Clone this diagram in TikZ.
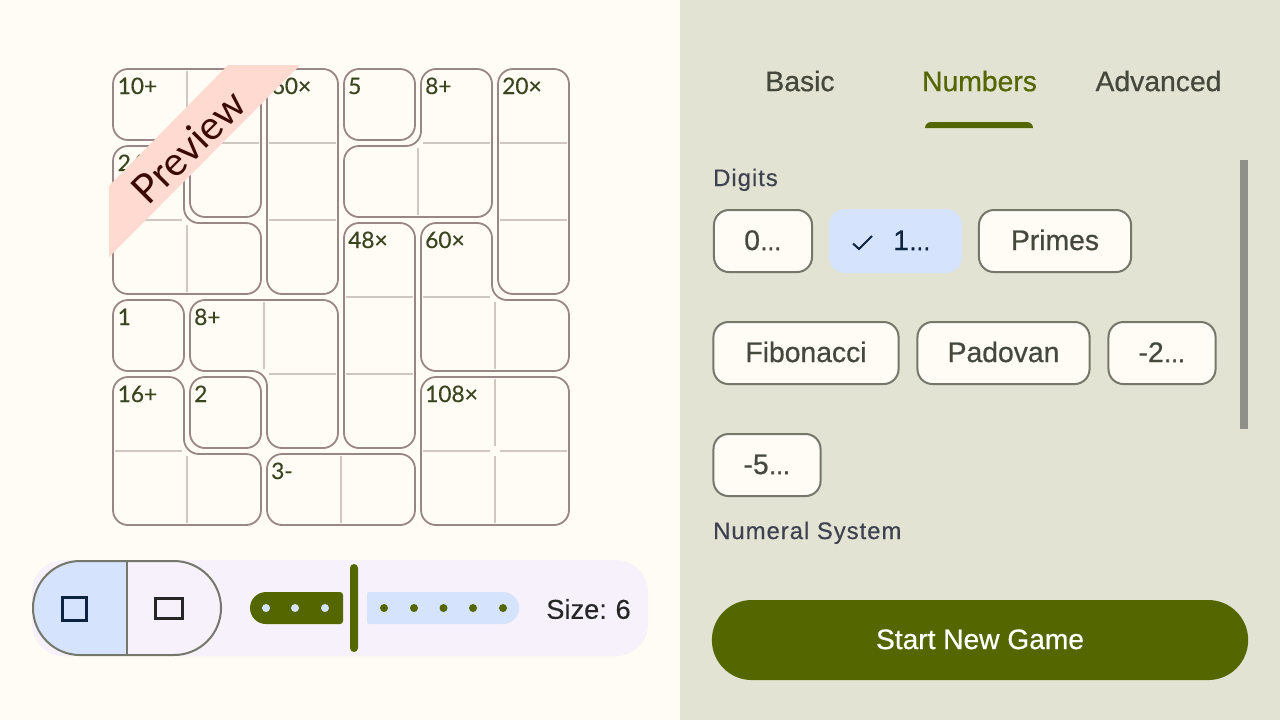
\documentclass[tikz,border=0pt]{standalone}
\usepackage{fontspec}
\setmainfont{Liberation Sans}[FakeBold=0.6]
\newfontfamily\cagefont{Lato}[FakeBold=0.4]
\newfontfamily\ribbonfont{Lato}
\newfontfamily\thinfont{Liberation Sans}[FakeBold=0.2]
\newfontfamily\headfont{Liberation Sans}[LetterSpace=4,FakeBold=0.4]
\newfontfamily\dotsfont{Liberation Sans}[FakeBold=2.5]
\newcommand{\shortdots}{{\dotsfont\fontsize{6.2}{9}\selectfont …}}

\definecolor{paper}{HTML}{FFFCF5}
\definecolor{panel}{HTML}{E2E3D3}
\definecolor{olive}{HTML}{536600}
\definecolor{skyblue}{HTML}{D5E3FD}
\definecolor{barback}{HTML}{F6F1FA}
\definecolor{cageline}{HTML}{9A8686}
\definecolor{sepline}{HTML}{CFC7C0}
\definecolor{chipline}{HTML}{75776B}
\definecolor{cagetext}{HTML}{3A4520}
\definecolor{darktext}{HTML}{45483C}
\definecolor{navy}{HTML}{0E2340}
\definecolor{ribbonfill}{HTML}{FFDAD0}
\definecolor{ribbontext}{HTML}{3B0A05}
\definecolor{scrollgray}{HTML}{8F908A}

\tikzset{
  cage/.style={draw=cageline,line width=0.018cm,rounded corners=0.15cm},
  sep/.style={draw=sepline,line width=0.015cm},
  cagelabel/.style={anchor=base west,inner sep=0pt,text=cagetext,font=\cagefont\fontsize{6.45}{8}\selectfont},
  tablabel/.style={inner sep=0pt,text=darktext,font=\fontsize{8.05}{9}\selectfont},
  headlabel/.style={anchor=base west,inner sep=0pt,text=darktext!90!blue,font=\headfont\fontsize{6.8}{8}\selectfont},
  chipbox/.style={draw=chipline,line width=0.02cm,fill=paper,rounded corners=0.15cm,minimum height=0.62cm,text height=0.2cm,text depth=0.02cm,inner sep=0pt,text=darktext,font=\fontsize{8.05}{9}\selectfont},
  dot/.style={circle,inner sep=0pt,minimum size=0.08cm},
}

\begin{document}
\begin{tikzpicture}[x=0.01cm,y=-0.01cm]
  \useasboundingbox (0,0) rectangle (1280,720);
  \fill[paper] (0,0) rectangle (680,720);
  \fill[panel] (680,0) rectangle (1280,720);

  % cages
  \draw[cage] (113,69) -- (261,69) -- (261,217) -- (190,217) -- (190,140) -- (113,140) -- cycle;
  \draw[cage] (113,146) -- (184,146) -- (184,223) -- (261,223) -- (261,294) -- (113,294) -- cycle;
  \draw[cage] (267,69) rectangle (338,294);
  \draw[cage] (344,69) rectangle (415,140);
  \draw[cage] (421,69) -- (492,69) -- (492,217) -- (344,217) -- (344,146) -- (421,146) -- cycle;
  \draw[cage] (498,69) rectangle (569,294);
  \draw[cage] (344,223) rectangle (415,448);
  \draw[cage] (421,223) -- (492,223) -- (492,300) -- (569,300) -- (569,371) -- (421,371) -- cycle;
  \draw[cage] (113,300) rectangle (184,371);
  \draw[cage] (190,300) -- (338,300) -- (338,448) -- (267,448) -- (267,371) -- (190,371) -- cycle;
  \draw[cage] (113,377) -- (184,377) -- (184,454) -- (261,454) -- (261,525) -- (113,525) -- cycle;
  \draw[cage] (190,377) rectangle (261,448);
  \draw[cage] (267,454) rectangle (415,525);
  \draw[cage] (421,377) rectangle (569,525);

  % cell lines inside the cages
  \draw[sep] (187,71) -- (187,138); \draw[sep] (192,143) -- (259,143);
  \draw[sep] (115,220) -- (182,220); \draw[sep] (187,225) -- (187,292);
  \draw[sep] (269,143) -- (336,143); \draw[sep] (269,220) -- (336,220);
  \draw[sep] (423,143) -- (490,143); \draw[sep] (418,148) -- (418,215);
  \draw[sep] (500,143) -- (567,143); \draw[sep] (500,220) -- (567,220);
  \draw[sep] (346,297) -- (413,297); \draw[sep] (346,374) -- (413,374);
  \draw[sep] (423,297) -- (490,297); \draw[sep] (495,302) -- (495,369);
  \draw[sep] (264,302) -- (264,369); \draw[sep] (269,374) -- (336,374);
  \draw[sep] (115,451) -- (182,451); \draw[sep] (187,456) -- (187,523);
  \draw[sep] (341,456) -- (341,523);
  \draw[sep] (495,379) -- (495,446); \draw[sep] (495,456) -- (495,523);
  \draw[sep] (423,451) -- (490,451); \draw[sep] (500,451) -- (567,451);

  \node[cagelabel] (tenplus) at (117,94) {10+};
  \node[cagelabel] (twentyfour) at (117,171) {24×};
  \node[cagelabel] (sixtya) at (271,94) {60×};
  \node[cagelabel] (five) at (347.5,94) {5};
  \node[cagelabel] (eighta) at (424.5,94) {8+};
  \node[cagelabel] (twenty) at (501.5,94) {20×};
  \node[cagelabel] (fortyeight) at (347.5,248) {48×};
  \node[cagelabel] (sixtyb) at (424.5,248) {60×};
  \node[cagelabel] (one) at (117,325) {1};
  \node[cagelabel] (eightb) at (193.5,325) {8+};
  \node[cagelabel] (sixteen) at (117,402) {16+};
  \node[cagelabel] (two) at (193.5,402) {2};
  \node[cagelabel] (hundred) at (424.5,402) {108×};
  \node[cagelabel] (three) at (270.5,479) {3-};

  % ribbon
  \fill[ribbonfill] (228,65) -- (300,65) -- (109,257) -- (109,186) -- cycle;
  \node[rotate=45,inner sep=0pt,text=ribbontext,font=\ribbonfont\fontsize{11.4}{13}\selectfont] (preview) at (188.5,146.5) {Preview};

  % bottom bar
  \fill[barback,rounded corners=0.32cm] (32,560) rectangle (648,656);
  \fill[skyblue] (127,561) [rounded corners=0.47cm] -- (33,561) -- (33,655) [sharp corners] -- (127,655) -- cycle;
  \draw[chipline,line width=0.02cm,rounded corners=0.47cm] (33,561) rectangle (221,655);
  \draw[chipline,line width=0.02cm] (127,561) -- (127,655);
  \draw[navy,line width=0.03cm] (62,597) rectangle (86,620);
  \draw[black!85,line width=0.03cm] (155,598) rectangle (182,618);

  % slider
  \fill[olive] (343,592) [rounded corners=0.16cm] -- (250,592) -- (250,624) [rounded corners=0.03cm] -- (343,624) -- cycle;
  \fill[skyblue] (367,592) [rounded corners=0.16cm] -- (519,592) -- (519,624) [rounded corners=0.02cm] -- (367,624) -- cycle;
  \fill[olive,rounded corners=0.04cm] (350,564) rectangle (358,652);
  \node[dot,fill=skyblue] (stopa) at (266,608) {};
  \node[dot,fill=skyblue] (stopb) at (295,608) {};
  \node[dot,fill=skyblue] (stopc) at (325,608) {};
  \node[dot,fill=olive] (stopd) at (384,608) {};
  \node[dot,fill=olive] (stope) at (414,608) {};
  \node[dot,fill=olive] (stopf) at (443.5,608) {};
  \node[dot,fill=olive] (stopg) at (473,608) {};
  \node[dot,fill=olive] (stoph) at (503,608) {};
  \node[inner sep=0pt,text=black!85,font=\thinfont\fontsize{7.75}{9}\selectfont] (size) at (588.5,609) {Size:\kern-0.4pt{} 6};

  % tabs
  \node[tablabel] (basic) at (800,81) {Basic};
  \node[tablabel,text=olive] (numbers) at (979.5,81) {Numbers};
  \node[tablabel] (advanced) at (1158.5,81) {Advanced};
  \fill[olive] (925,128) [rounded corners=0.06cm] -- (925,122) -- (1033,122) [sharp corners] -- (1033,128) -- cycle;

  % chips
  \node[headlabel] (digits) at (712.5,186) {Digits};
  \node[chipbox,minimum width=0.98cm] (chipzero) at (763,241) {0\shortdots};
  \node[fill=skyblue,rounded corners=0.16cm,minimum width=1.33cm,minimum height=0.64cm,inner sep=0pt] (chipone) at (895.5,241) {};
  \node[inner sep=0pt,text height=0.2cm,text depth=0.02cm,text=navy,font=\fontsize{8.05}{9}\selectfont] (onetext) at (912,241) {1\shortdots};
  \draw[navy,line width=0.02cm] (853,243.5) -- (859,249) -- (872,236);
  \node[chipbox,minimum width=1.52cm] (chipprimes) at (1055,241) {Primes};
  \node[chipbox,minimum width=1.85cm] (chipfib) at (806,353) {Fibonacci};
  \node[chipbox,minimum width=1.72cm] (chippad) at (1003.5,353) {Padovan};
  \node[chipbox,minimum width=1.07cm] (chiptwo) at (1162,353) {-2\shortdots};
  \node[chipbox,minimum width=1.07cm] (chipfive) at (767,465) {-5\shortdots};
  \node[headlabel] (numeral) at (712.5,539) {Numeral System};
  \fill[scrollgray] (1240,160) rectangle (1248,429);

  \node[fill=olive,rounded corners=0.4cm,minimum width=5.36cm,minimum height=0.8cm,text height=0.2cm,text depth=0.02cm,inner sep=0pt,text=white,font=\fontsize{8}{9}\selectfont] (startgame) at (980,640) {Start New Game};
\end{tikzpicture}
\end{document}
